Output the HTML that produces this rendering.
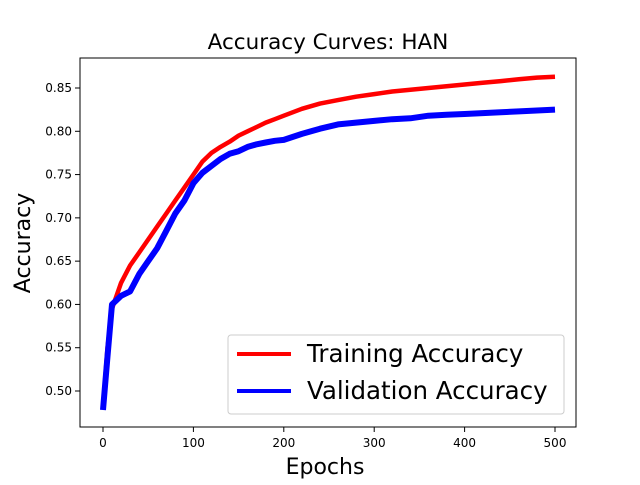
<!DOCTYPE html>
<html><head><meta charset="utf-8"><style>
body{margin:0;background:#fff}
svg text{font-family:"DejaVu Sans","Liberation Sans",sans-serif}
</style></head><body>
<svg id="c" width="640" height="480" xmlns="http://www.w3.org/2000/svg">
<rect width="640" height="480" fill="#fff"/>
<text x="328" y="49" font-size="21.5" text-anchor="middle">Accuracy Curves: HAN</text>
<g id="plot"></g>
<rect x="80" y="58" width="496" height="369" fill="none" stroke="#000" stroke-width="1"/>
<text x="325" y="474" font-size="22" text-anchor="middle">Epochs</text>
<text x="0" y="0" font-size="22" text-anchor="middle" transform="translate(30,243) rotate(-90)">Accuracy</text>
<g>
<rect x="228" y="335" width="336" height="79" rx="3" fill="#fff" fill-opacity="0.8" stroke="#ccc"/>
<line x1="237" y1="354" x2="291" y2="354" stroke="#f00" stroke-width="4"/>
<text x="307" y="362" font-size="24.5">Training Accuracy</text>
<line x1="237" y1="391" x2="291" y2="391" stroke="#00f" stroke-width="4"/>
<text x="307" y="399" font-size="24.5">Validation Accuracy</text>
</g>
</svg>
<script>
const epochs=[0,5,10,20,30,40,50,60,70,80,90,100,110,120,130,140,150,160,170,180,190,200,220,240,260,280,300,320,340,360,380,400,420,440,460,480,500];
const trainAcc=[0.48,0.55,0.595,0.625,0.645,0.66,0.675,0.69,0.705,0.72,0.735,0.75,0.765,0.775,0.782,0.788,0.795,0.80,0.805,0.81,0.814,0.818,0.826,0.832,0.836,0.84,0.843,0.846,0.848,0.85,0.852,0.854,0.856,0.858,0.86,0.862,0.863];
const valAcc=[0.478,0.54,0.60,0.61,0.615,0.635,0.65,0.665,0.685,0.705,0.72,0.74,0.752,0.76,0.768,0.774,0.777,0.782,0.785,0.787,0.789,0.79,0.797,0.803,0.808,0.81,0.812,0.814,0.815,0.818,0.819,0.82,0.821,0.822,0.823,0.824,0.825];
const xTicks=[0,100,200,300,400,500];
const yTicks=[0.50,0.55,0.60,0.65,0.70,0.75,0.80,0.85];
const NS="http://www.w3.org/2000/svg";
const X=v=>103+(v/500)*452;
const Y=v=>391-((v-0.5)/0.35)*303;
const g=document.getElementById('plot');
function mk(t,a){const e=document.createElementNS(NS,t);for(const k in a)e.setAttribute(k,a[k]);g.appendChild(e);return e;}
xTicks.forEach(t=>{
 const l=mk('line',{x1:X(t),x2:X(t),y1:427,y2:432,stroke:'#000'});
 
 
 const tx=mk('text',{x:X(t),y:447,'font-size':'12','text-anchor':'middle'});tx.textContent=t;
 
 
});
yTicks.forEach(t=>{
 const l=mk('line',{x1:75,x2:80,y1:Y(t),y2:Y(t),stroke:'#000'});
 
 
 const tx=mk('text',{x:72,y:Y(t)+4,'font-size':'12','text-anchor':'end'});tx.textContent=t.toFixed(2);
 
 
});
function line(arr){return epochs.map((e,i)=>(i?'L':'M')+X(e).toFixed(1)+','+Y(arr[i]).toFixed(1)).join('');}
const pt=mk('path',{d:line(trainAcc),fill:'none',stroke:'#f00','stroke-width':4.5,'stroke-linejoin':'round'});


const pv=mk('path',{d:line(valAcc),fill:'none',stroke:'#00f','stroke-width':6,'stroke-linejoin':'round'});


</script>
</body></html>
